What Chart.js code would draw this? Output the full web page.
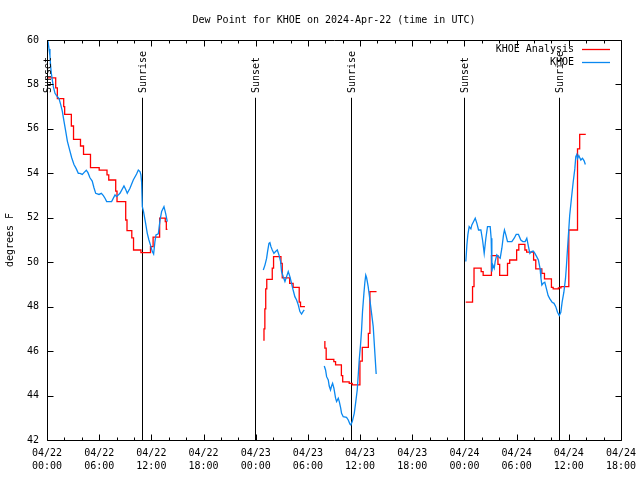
<!DOCTYPE html>
<html>
<head>
<meta charset="utf-8">
<title>Dew Point for KHOE</title>
<script src="https://cdn.jsdelivr.net/npm/chart.js@4.4.0/dist/chart.umd.min.js"></script>
<style>
    html, body { margin: 0; padding: 0; background: #ffffff; }
    #wrap { width: 640px; height: 480px; }
</style>
</head>
<body>
<div id="wrap"><canvas id="dewpoint_chart" width="640" height="480"></canvas></div>
<script>
// hours since 04/22 00:00 UTC, null = gap in the record
const analysisHours = [
    0, 1.0, 1.19, 1.92, 2.03, 2.8, 3.05, 3.85, 4.2, 5.0, 6.0, 6.9, 7.1, 7.9, 8.05,
    9.05, 9.2, 9.75, 9.95, 10.8, 11.9, 12.2, 12.95, 13.6, 13.72, 13.85, 14,
    24.87, 24.95, 25.05, 25.15, 25.27, 25.9, 26.05, 26.9, 27.05, 27.9, 28.3, 29.0, 29.15, 29.66, 30,
    31.88, 31.95, 32.1, 32.98, 33.18, 33.85, 34.0, 34.75, 35.1, 35.98, 36.25, 36.95, 37.13, 37.89, 40,
    48.15, 48.93, 49.1, 49.92, 50.15, 51.1, 51.85, 52.05, 52.95, 53.2, 54.0, 54.25, 54.95, 55.15,
    55.95, 56.2, 56.9, 57.2, 58.0, 58.2, 58.8, 59.1, 60.0, 61.0, 61.25, 61.95
];
const analysisValues = [
    58.3, 57.85, 57.36, 57.0, 56.65, 56.13, 55.53, 55.23, 54.85, 54.26, 54.14, 53.93, 53.7, 53.2, 52.73,
    51.9, 51.42, 51.1, 50.55, 50.43, 50.7, 51.13, 51.98, 51.83, 51.48, 51.48, null,
    46.5, 47.0, 47.9, 48.8, 49.23, 49.73, 50.25, 49.95, 49.3, 49.05, 48.87, 48.2, 48.0, 48.0, null,
    46.43, 46.13, 45.63, 45.53, 45.38, 44.9, 44.62, 44.55, 44.48, 45.55, 46.17, 46.8, 48.68, 48.68, null,
    48.2, 48.9, 49.73, 49.58, 49.41, 50.3, 49.9, 49.41, 49.95, 50.1, 50.55, 50.8, 50.55, 50.45,
    50.1, 49.7, 49.5, 49.25, 48.87, 48.8, 48.85, 48.9, 51.45, 55.1, 55.75, 55.75
];

const obsHours = [
    0.05, 0.11, 0.23, 0.34, 0.42, 0.5, 0.61, 0.73, 0.92, 1.1, 1.38, 1.57, 1.76, 1.95, 2.15, 2.34,
    2.57, 2.84, 3.1, 3.37, 3.6, 3.8, 4.06, 4.25, 4.52, 4.71, 4.94, 5.2, 5.4, 5.6, 5.98, 6.25, 6.48,
    6.67, 6.86, 7.43, 7.82, 8.0, 8.39, 8.85, 9.04, 9.23, 9.54, 9.92, 10.3, 10.5, 10.69, 10.8, 10.88,
    10.96, 11.1, 11.34, 11.53, 11.72, 11.95, 12.11, 12.26, 12.41, 12.53, 12.8, 13.0, 13.18, 13.45,
    13.64, 13.83, 14,
    24.87, 25.06, 25.25, 25.36, 25.52, 25.63, 25.75, 25.9, 26.09, 26.28, 26.48, 26.67, 26.86, 26.97,
    27.16, 27.36, 27.55, 27.74, 27.93, 28.12, 28.3, 28.5, 28.7, 28.89, 29.08, 29.27, 29.47, 29.58, 30,
    31.88, 32.03, 32.15, 32.34, 32.45, 32.6, 32.72, 32.84, 32.99, 33.18, 33.3, 33.49, 33.61, 33.77,
    33.87, 34.06, 34.44, 34.64, 34.83, 34.94, 35.1, 35.33, 35.48, 35.67, 35.79, 35.9, 36.05, 36.17,
    36.28, 36.44, 36.55, 36.65, 36.75, 36.93, 37.13, 37.32, 37.51, 37.7, 37.85, 40,
    48.16, 48.28, 48.39, 48.54, 48.74, 48.85, 49.05, 49.24, 49.43, 49.62, 49.89, 50.08, 50.27, 50.46,
    50.65, 50.96, 51.07, 51.15, 51.26, 51.42, 51.53, 51.72, 51.92, 52.11, 52.3, 52.49, 52.6, 52.76,
    52.95, 53.45, 53.72, 53.95, 54.21, 54.48, 54.71, 54.98, 55.17, 55.36, 55.52, 55.71, 55.9, 56.1,
    56.3, 56.5, 56.69, 56.8, 56.9, 57.05, 57.24, 57.43, 57.62, 57.82, 58.08, 58.3, 58.5, 58.7, 58.9,
    59.08, 59.23, 59.43, 59.62, 59.73, 59.85, 60.0, 60.1, 60.3, 60.5, 60.69, 60.8, 60.92, 61.0, 61.15,
    61.38, 61.57, 61.76, 61.9
];
const obsValues = [
    60.2, 59.95, 59.6, 59.3, 58.8, 58.5, 58.2, 57.9, 57.6, 57.5, 57.36, 57.1, 56.8, 56.35, 55.9, 55.45,
    55.1, 54.7, 54.4, 54.2, 54.0, 54.0, 53.95, 54.03, 54.14, 54.03, 53.8, 53.65, 53.35, 53.1, 53.05, 53.1, 53.0,
    52.88, 52.73, 52.73, 53.03, 52.95, 53.1, 53.43, 53.28, 53.1, 53.33, 53.7, 53.97, 54.15, 54.08, 53.93, 53.6,
    52.5, 52.28, 51.75, 51.3, 51.0, 50.7, 50.48, 50.37, 50.93, 51.23, 51.28, 51.9, 52.28, 52.5,
    52.2, 51.83, null,
    49.65, 49.87, 50.17, 50.48, 50.85, 50.88, 50.7, 50.55, 50.4, 50.48, 50.55, 50.33, 50.03, 49.58,
    49.35, 49.13, 49.35, 49.58, 49.35, 49.05, 48.75, 48.45, 48.3, 48.08, 47.78, 47.67, 47.8, 47.85, null,
    45.33, 45.15, 44.85, 44.7, 44.43, 44.25, 44.43, 44.55, 44.33, 43.88, 43.73, 43.88, 43.73, 43.43,
    43.2, 43.05, 43.02, 42.9, 42.72, 42.68, 42.83, 43.2, 43.65, 44.25, 44.93, 45.6, 46.28, 46.95,
    47.78, 48.6, 49.1, 49.42, 49.3, 48.9, 48.3, 47.7, 47.1, 45.9, 44.97, null,
    50.03, 50.78, 51.23, 51.6, 51.5, 51.68, 51.83, 51.98, 51.75, 51.45, 51.45, 51.0, 50.4, 51.08,
    51.6, 51.6, 51.08, 49.58, 49.88, 49.73, 50.03, 50.33, 50.25, 50.18, 50.63, 51.23, 51.45, 51.23,
    50.93, 50.93, 51.08, 51.25, 51.25, 51.0, 50.93, 50.93, 51.08, 50.7, 50.4, 50.48, 50.5, 50.4,
    50.25, 50.1, 49.72, 49.27, 48.97, 49.05, 49.1, 48.8, 48.5, 48.35, 48.2, 48.15, 48.0, 47.75, 47.6,
    47.75, 48.2, 48.65, 49.27, 49.85, 50.6, 51.5, 52.1, 52.87, 53.6, 54.2, 54.75, 54.85, 54.66, 54.8,
    54.6, 54.68, 54.56, 54.4
];

const sunsetHours = [0, 23.95, 48.0];
const sunriseHours = [10.95, 34.9, 58.9];
const sunLineTop = 57.4;

const xTickHours = [0, 6, 12, 18, 24, 30, 36, 42, 48, 54, 60, 66];
const xTickLabels = [
    ['04/22', '00:00'], ['04/22', '06:00'], ['04/22', '12:00'], ['04/22', '18:00'],
    ['04/23', '00:00'], ['04/23', '06:00'], ['04/23', '12:00'], ['04/23', '18:00'],
    ['04/24', '00:00'], ['04/24', '06:00'], ['04/24', '12:00'], ['04/24', '18:00']
];
const yTickValues = [42, 44, 46, 48, 50, 52, 54, 56, 58, 60];

const FONT = '"DejaVu Sans Mono", "Liberation Mono", monospace';
const RED = '#ff0000';
const BLUE = '#0a88f0';

function toPoints(hours, values) {
    let pts = [];
    for (let i = 0; i < hours.length; i++) {
        pts.push({ x: hours[i], y: values[i] });
    }
    return pts;
}

// gnuplot style frame: border, inward ticks, sunrise/sunset markers, legend
const gnuplotDecor = {
    id: 'gnuplotDecor',
    beforeDatasetsDraw(chart) {
        const ctx = chart.ctx;
        const xs = chart.scales.x, ys = chart.scales.y;
        ctx.save();
        ctx.strokeStyle = '#000';
        ctx.lineWidth = 1;
        ctx.beginPath();
        sunsetHours.concat(sunriseHours).forEach(h => {
            const px = Math.round(xs.getPixelForValue(h)) + 0.5;
            ctx.moveTo(px, ys.getPixelForValue(42));
            ctx.lineTo(px, ys.getPixelForValue(sunLineTop));
        });
        ctx.stroke();
        ctx.restore();
    },
    afterDatasetsDraw(chart) {
        const ctx = chart.ctx;
        const a = chart.chartArea;
        const xs = chart.scales.x, ys = chart.scales.y;
        const L = Math.round(a.left) + 0.5, R = Math.round(a.right) + 0.5;
        const T = Math.round(a.top) + 0.5, B = Math.round(a.bottom) + 0.5;
        ctx.save();
        ctx.strokeStyle = '#000';
        ctx.lineWidth = 1;
        ctx.beginPath();
        ctx.rect(L, T, R - L, B - T);
        for (let h = 0; h <= 66; h += 2) {
            const px = Math.round(xs.getPixelForValue(h)) + 0.5;
            const len = (h % 6 === 0) ? 6 : 3;
            ctx.moveTo(px, B); ctx.lineTo(px, B - len);
            ctx.moveTo(px, T); ctx.lineTo(px, T + len);
        }
        yTickValues.forEach(v => {
            const py = Math.round(ys.getPixelForValue(v)) + 0.5;
            ctx.moveTo(L, py); ctx.lineTo(L + 6, py);
            ctx.moveTo(R, py); ctx.lineTo(R - 6, py);
        });
        ctx.stroke();

        // marker labels
        ctx.fillStyle = '#000';
        ctx.font = '10px ' + FONT;
        ctx.textAlign = 'left';
        ctx.textBaseline = 'middle';
        const mark = (h, txt) => {
            const px = Math.round(xs.getPixelForValue(h)) + 1;
            ctx.save();
            ctx.translate(px, 93);
            ctx.rotate(-Math.PI / 2);
            ctx.fillText(txt, 0, 0);
            ctx.restore();
        };
        sunsetHours.forEach(h => mark(h, 'Sunset'));
        sunriseHours.forEach(h => mark(h, 'Sunrise'));

        // legend
        const items = [
            { text: chart.data.datasets[0].label, color: chart.data.datasets[0].borderColor, y: 49.5 },
            { text: chart.data.datasets[1].label, color: chart.data.datasets[1].borderColor, y: 62.5 }
        ];
        ctx.textAlign = 'right';
        items.forEach(it => {
            ctx.fillStyle = '#000';
            ctx.fillText(it.text, 574, it.y);
            ctx.strokeStyle = it.color;
            ctx.lineWidth = 1.3;
            ctx.beginPath();
            ctx.moveTo(582, it.y);
            ctx.lineTo(610, it.y);
            ctx.stroke();
        });
        ctx.restore();
    }
};

new Chart(document.getElementById('dewpoint_chart').getContext('2d'), {
    type: 'line',
    data: {
        datasets: [
            {
                label: 'KHOE Analysis',
                data: toPoints(analysisHours, analysisValues),
                borderColor: RED,
                borderWidth: 1.3,
                stepped: true,
                pointRadius: 0,
                spanGaps: false,
                order: 1
            },
            {
                label: 'KHOE',
                data: toPoints(obsHours, obsValues),
                borderColor: BLUE,
                borderWidth: 1.3,
                tension: 0,
                pointRadius: 0,
                spanGaps: false,
                order: 0
            }
        ]
    },
    options: {
        responsive: false,
        animation: false,
        devicePixelRatio: 1,
        layout: { padding: { left: 0, right: 19, top: 0, bottom: 0 } },
        plugins: {
            legend: { display: false },
            tooltip: { enabled: false },
            title: {
                display: true,
                text: 'Dew Point for KHOE on 2024-Apr-22 (time in UTC)',
                color: '#000',
                fullSize: false,
                font: { family: FONT, size: 10, weight: 'normal', lineHeight: 1.2 },
                padding: { top: 14, bottom: 14 }
            }
        },
        scales: {
            x: {
                type: 'linear',
                min: 0,
                max: 66,
                afterBuildTicks: s => { s.ticks = xTickHours.map(v => ({ value: v })); },
                afterFit: s => {
                    s.height = 40;
                    s.paddingLeft = 0;
                    s.paddingRight = 0;
                },
                ticks: {
                    callback: (v, i) => xTickLabels[i],
                    color: '#000',
                    font: { family: FONT, size: 10, lineHeight: 1.3 },
                    maxRotation: 0,
                    autoSkip: false,
                    padding: 7
                },
                grid: { display: false, drawTicks: false },
                border: { display: false }
            },
            y: {
                min: 42,
                max: 60,
                afterBuildTicks: s => { s.ticks = yTickValues.map(v => ({ value: v })); },
                afterFit: s => { s.width = 47; },
                ticks: {
                    color: '#000',
                    font: { family: FONT, size: 10 },
                    padding: 8
                },
                title: {
                    display: true,
                    text: 'degrees F',
                    color: '#000',
                    font: { family: FONT, size: 10 },
                    padding: { top: 4, bottom: 0 }
                },
                grid: { display: false, drawTicks: false },
                border: { display: false }
            }
        }
    },
    plugins: [gnuplotDecor]
});
</script>
</body>
</html>
